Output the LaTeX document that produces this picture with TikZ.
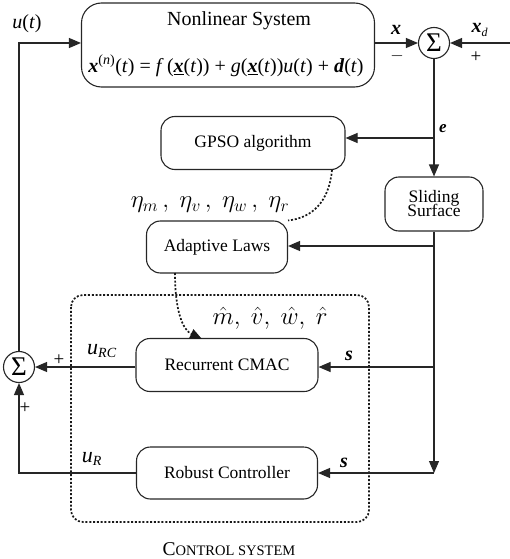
\documentclass[tikz,border=0pt]{standalone}
\usepackage{fontspec}
\setmainfont{Liberation Serif}
\usetikzlibrary{arrows.meta,positioning,calc}
\begin{document}
\begin{tikzpicture}[x=1pt,y=-1pt,
  line width=1.1pt, draw=black!85,
  blk/.style={draw=black!85, rounded corners=14pt, align=center, inner sep=0pt, font=\fontsize{17.5}{18}\selectfont},
  sumnode/.style={draw=black!85, circle, minimum size=31pt, inner sep=0pt, font=\fontsize{27}{27}\selectfont},
  arr/.style={-{Triangle[length=12pt,width=10pt]}},
  lbl/.style={font=\fontsize{20}{20}\selectfont, inner sep=0pt},
  pm/.style={font=\fontsize{19}{19}\selectfont, inner sep=0pt},
  dots/.style={dash pattern=on 2pt off 1.8pt, line width=1.7pt, draw=black!90}
]
\useasboundingbox (0,0) rectangle (510,559);

% blocks
\node[blk, minimum width=293pt, minimum height=84pt, rounded corners=20pt] (ns) at (228,45) {};
\node[font=\fontsize{20}{20}\selectfont] (nstitle) at (239,21) {Nonlinear System};
\node[font=\fontsize{20}{20}\selectfont] (nseq) at (226,66) {\textbf{\textit{x}}\textsuperscript{(\textit{n})}(\textit{t}) = \textit{f}\,(\underline{\textbf{\textit{x}}}(\textit{t})) + \textit{g}(\underline{\textbf{\textit{x}}}(\textit{t}))\textit{u}(\textit{t}) + \textbf{\textit{d}}(\textit{t})};

\node[blk, minimum width=184pt, minimum height=53pt] (gpso) at (253,143) {GPSO algorithm};
\node[blk, minimum width=98pt, minimum height=54pt] (ss) at (434,204) {Sliding\\[-4pt]Surface};
\node[blk, minimum width=141pt, minimum height=52pt] (al) at (217,247) {Adaptive Laws};
\node[blk, minimum width=182pt, minimum height=53pt] (cmac) at (227,365) {Recurrent CMAC};
\node[blk, minimum width=181pt, minimum height=52pt] (rc) at (227,473) {Robust Controller};

% sums
\node[sumnode] (s1) at (434,43) {Σ};
\node[sumnode] (s2) at (19,367) {Σ};

% control system dotted box
\draw[dots, rounded corners=12pt] (71,295) rectangle (369,522);
\node[font=\fontsize{19.5}{20}\selectfont] (cs) at (229,549) {C\fontsize{14.5}{15}\selectfont ONTROL SYSTEM};

% connectors top
\draw[arr] (ns.east |- s1) -- (s1.west);
\coordinate (xdin) at (510,43);
\draw[arr] (xdin) -- (s1.east);
\node[lbl] (xlab) at (396,30) {\textbf{\textit{x}}};
\node[pm] (minus) at (397,56) {$-$};
\node[lbl] (xdlab) at (480,30) {\textbf{\textit{x}}\textsubscript{\fontsize{12}{12}\selectfont\textit{d}}};
\node[pm] (plus1) at (476,57) {+};

\draw[arr] (s1.south) -- (ss.north);
\coordinate (ebr) at (434,138);
\draw[arr] (ebr) -- (gpso.east |- ebr);
\node[lbl] (elab) at (443,129) {\fontsize{17}{17}\selectfont\textbf{\textit{e}}};

% sliding surface outputs
\coordinate (albr) at (434,246);
\coordinate (cmbr) at (434,367);
\coordinate (rcbr) at (434,473);
\draw[arr] (albr) -- (al.east |- albr);
\draw[arr] (ss.south) -- (rcbr);
\draw[arr] (cmbr) -- (cmac.east |- cmbr);
\draw[arr] (rcbr) -- (rc.east);
\node[lbl] (s1lab) at (349,356) {\textbf{\textit{s}}};
\node[lbl] (s2lab) at (344,463) {\textbf{\textit{s}}};

% dotted curves
\draw[dots] (332,170) .. controls (329,202) and (312,218) .. (al.north east);
\draw[dots, arr] (175,273) .. controls (175,312) and (183,330) .. (202,339);

% labels
\node[font=\fontsize{25}{25}\selectfont] (eta) at (210,205) {$\eta_m\,,\ \eta_v\,,\ \eta_w\,,\ \eta_r$};
\node[font=\fontsize{24.5}{25}\selectfont] (hats) at (270,318) {$\hat m,\ \hat v,\ \hat w,\ \hat r$};

% left side
\draw[arr] (cmac.west |- s2) -- (s2.east);
\node[lbl] (urc) at (102,351) {\fontsize{22}{22}\selectfont\textit{u}\textsubscript{\fontsize{14}{14}\selectfont\textit{RC}}};
\node[pm] (plus2) at (59,360) {+};
\coordinate (rcl) at (19,473);
\draw[arr] (rc.west) -- (rcl) -- (s2.south);
\node[lbl] (ur) at (92,459) {\fontsize{22}{22}\selectfont\textit{u}\textsubscript{\fontsize{14}{14}\selectfont\textit{R}}};
\node[pm] (plus3) at (25,408) {+};
\coordinate (utop) at (19,43);
\draw[arr] (s2.north) -- (utop) -- (ns.west |- utop);
\node[lbl] (ut) at (27,24) {\textit{u}(\textit{t})};
\end{tikzpicture}
\end{document}
